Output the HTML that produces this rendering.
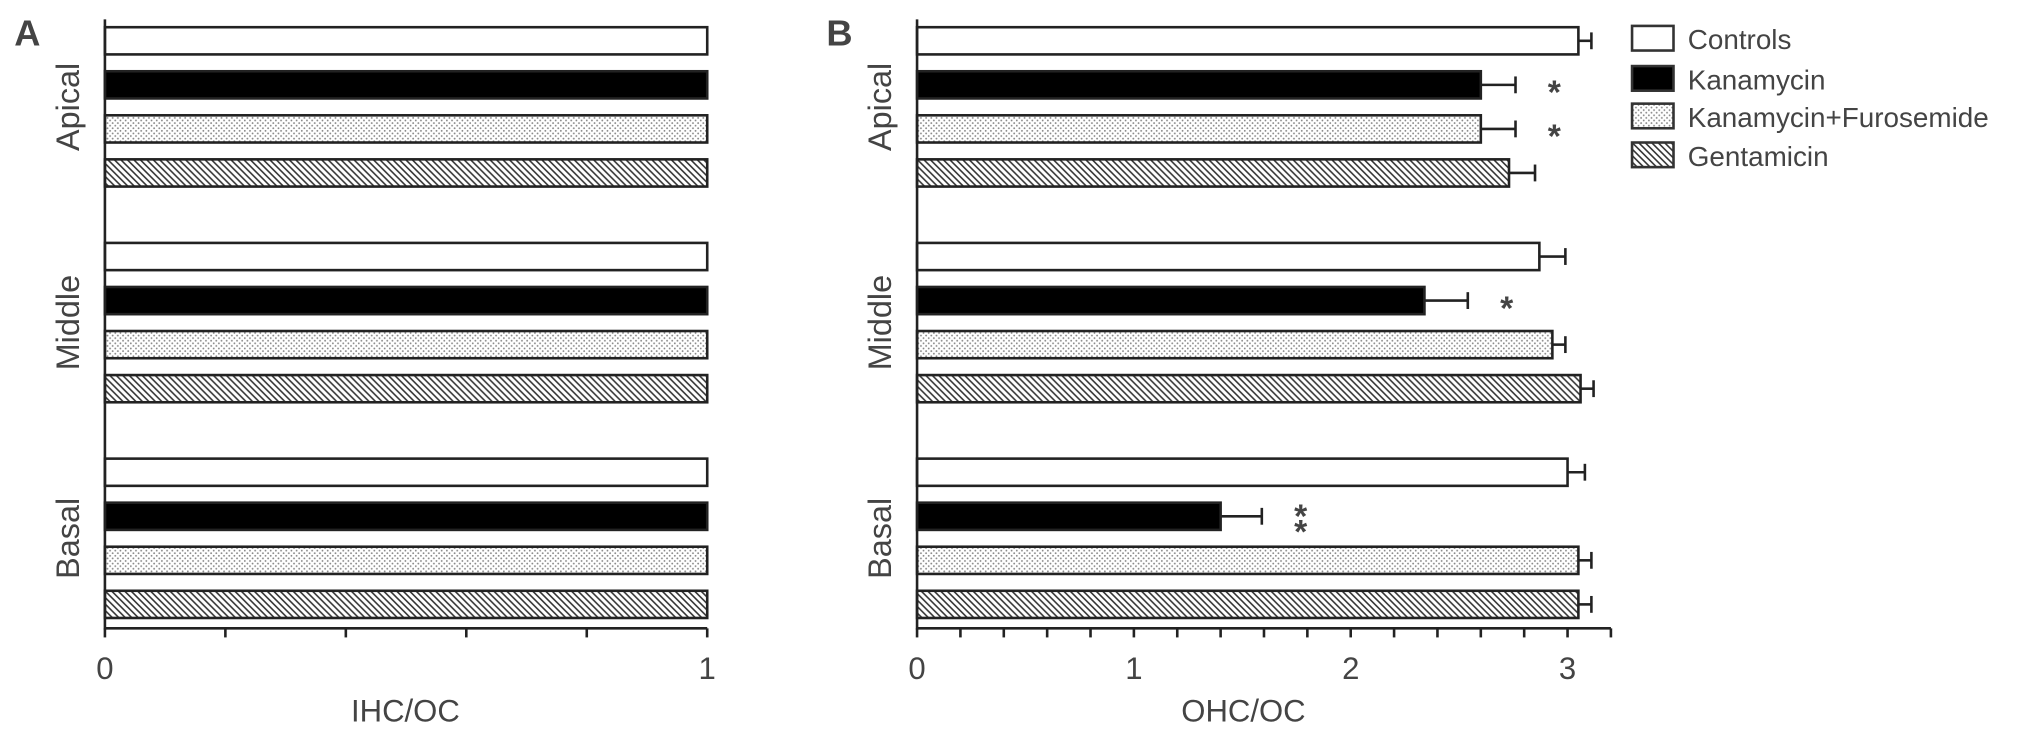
<!DOCTYPE html>
<html><head><meta charset="utf-8"><style>html,body{margin:0;padding:0;background:#fff}svg{display:block}text{font-family:"Liberation Sans",sans-serif;fill:#444}</style></head>
<body>
<svg id="chart" width="2031" height="732" viewBox="0 0 1568 565" preserveAspectRatio="none" xmlns="http://www.w3.org/2000/svg">
<defs>
<pattern id="dots" width="4" height="4" patternUnits="userSpaceOnUse"><rect width="4" height="4" fill="#fff"/><circle cx="1" cy="1" r="0.7" fill="#888"/><circle cx="3" cy="3" r="0.7" fill="#888"/></pattern>
<pattern id="hatch" width="5" height="5" patternUnits="userSpaceOnUse"><rect width="5" height="5" fill="#fff"/><path d="M-1,-1 L6,6 M-6,-1 L1,6 M4,-1 L11,6" stroke="#333" stroke-width="1.2"/></pattern>
</defs>
<g id="root"></g>
</svg>
<script>
const regions = ["Apical","Middle","Basal"];
const groups = ["Controls","Kanamycin","Kanamycin+Furosemide","Gentamicin"];
const valuesA = [[1,1,1,1],[1,1,1,1],[1,1,1,1]];
const valuesB = [[3.05,2.60,2.60,2.73],[2.87,2.34,2.93,3.06],[3.00,1.40,3.05,3.05]];
const errorsB = [[0.06,0.16,0.16,0.12],[0.12,0.20,0.06,0.06],[0.08,0.19,0.06,0.06]];
const starsB = [["","*","*",""],["","*","",""],["","**","",""]];
const ticksA = [0,1];
const ticksB = [0,1,2,3];

const NS="http://www.w3.org/2000/svg";
const root=document.getElementById('root');
function el(tag,attrs,parent){const e=document.createElementNS(NS,tag);for(const k in attrs)e.setAttribute(k,attrs[k]);(parent||root).appendChild(e);return e;}
const fills=["#fff","#000","url(#dots)","url(#hatch)"];
function yBar(g,i){return 21+g*166.5+i*34;}

function panel(opt){
  const x=v=>opt.x0+v*opt.unit;
  const g=el('g',{});
  
  
  opt.values.forEach((row,gi)=>{
    row.forEach((v,i)=>{
      const y=yBar(gi,i);
      const r=el('rect',{x:opt.x0,y:y,width:x(v)-opt.x0,height:21,fill:fills[i],stroke:'#222','stroke-width':2},g);
      
      
      if(opt.errors){
        const e=opt.errors[gi][i];
        const eg=el('g',{stroke:'#222','stroke-width':2},g);
        
        
        el('line',{x1:x(v),x2:x(v+e),y1:y+10.5,y2:y+10.5},eg);
        el('line',{x1:x(v+e),x2:x(v+e),y1:y+4,y2:y+17},eg);
        const s=opt.stars[gi][i];
        if(s){
          const sx=x(v+e)+30;
          for(let k=0;k<s.length;k++){
            const t=el('text',{x:sx,y:y+25-(s.length-1)*6+k*12,'font-size':26,'font-weight':'bold','text-anchor':'middle',fill:'#333'},g);
            t.textContent='*';
            
            
          }
        }
      }
    });
    const cy=yBar(gi,0)+(yBar(gi,3)+21-yBar(gi,0))/2;
    const lt=el('text',{x:0,y:0,'font-size':25,'text-anchor':'middle',transform:`translate(${opt.x0-20},${cy}) rotate(-90)`},g);
    lt.textContent=regions[gi];
    
    
  });
  el('line',{x1:opt.x0,x2:opt.x0,y1:15,y2:486,stroke:'#222','stroke-width':2},g);
  el('line',{x1:opt.x0,x2:x(opt.max),y1:485,y2:485,stroke:'#222','stroke-width':2},g);
  for(let v=0;v<=opt.max+1e-6;v+=0.2){
    el('line',{x1:x(v),x2:x(v),y1:485,y2:492,stroke:'#222','stroke-width':2},g);
  }
  opt.ticks.forEach(v=>{
    const t=el('text',{x:x(v),y:524,'font-size':24,'text-anchor':'middle'},g);
    t.textContent=v;
    
    
  });
  const xt=el('text',{x:opt.titleX,y:557,'font-size':24,'text-anchor':'middle'},g);
  xt.textContent=opt.title;
  
  
  const pl=el('text',{x:opt.x0-70,y:35,'font-size':28,'font-weight':'bold',fill:'#111'},g);
  pl.textContent=opt.letter;
  
  
}
panel({name:'panel-a',x0:81,unit:465,max:1,values:valuesA,ticks:ticksA,title:'IHC/OC',titleX:313,letter:'A'});
panel({name:'panel-b',x0:708,unit:167.4,max:3.2,values:valuesB,errors:errorsB,stars:starsB,ticks:ticksB,title:'OHC/OC',titleX:960,letter:'B'});

const lg=el('g',{});


const ly=[20,51,80,110];
groups.forEach((n,i)=>{
  const r=el('rect',{x:1260,y:ly[i],width:32,height:19,fill:fills[i],stroke:'#333','stroke-width':2},lg);
  
  
  const t=el('text',{x:1303,y:ly[i]+18,'font-size':21.5},lg);
  t.textContent=n;
  
  
});
</script>
</body></html>
